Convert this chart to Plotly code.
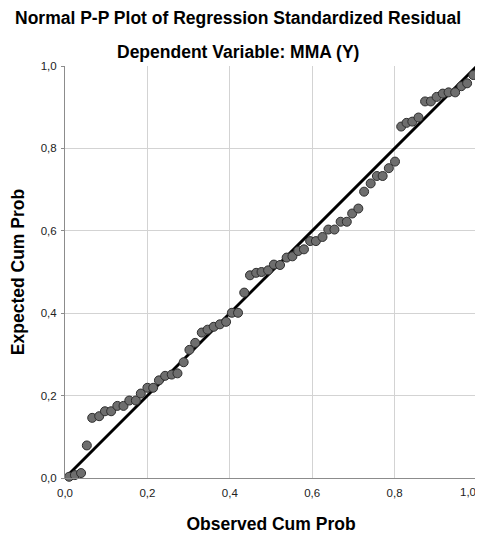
import plotly.graph_objects as go

observed_cum_prob = [
    0.010, 0.024, 0.039, 0.053, 0.066, 0.083, 0.097, 0.112, 0.127, 0.142,
    0.156, 0.172, 0.184, 0.200, 0.214, 0.228, 0.243, 0.259, 0.273, 0.288,
    0.302, 0.316, 0.332, 0.346, 0.361, 0.376, 0.391, 0.405, 0.420, 0.435,
    0.449, 0.464, 0.477, 0.493, 0.507, 0.522, 0.538, 0.552, 0.566, 0.580,
    0.595, 0.609, 0.625, 0.639, 0.654, 0.669, 0.684, 0.697, 0.712, 0.726,
    0.742, 0.757, 0.771, 0.786, 0.801, 0.816, 0.829, 0.843, 0.858, 0.874,
    0.888, 0.902, 0.917, 0.931, 0.947, 0.962, 0.976, 0.991,
]
expected_cum_prob = [
    0.003, 0.007, 0.012, 0.079, 0.146, 0.150, 0.162, 0.162, 0.175, 0.175,
    0.188, 0.188, 0.205, 0.219, 0.219, 0.237, 0.248, 0.251, 0.254, 0.281,
    0.311, 0.328, 0.353, 0.360, 0.367, 0.373, 0.379, 0.401, 0.401, 0.450,
    0.492, 0.498, 0.500, 0.504, 0.518, 0.517, 0.535, 0.538, 0.551, 0.555,
    0.575, 0.575, 0.585, 0.603, 0.603, 0.622, 0.622, 0.642, 0.654, 0.695,
    0.715, 0.733, 0.733, 0.752, 0.768, 0.853, 0.862, 0.865, 0.875, 0.914,
    0.914, 0.925, 0.933, 0.936, 0.936, 0.951, 0.958, 0.978,
]
ref_line = [0.0, 1.0]
tick_vals = [0.0, 0.2, 0.4, 0.6, 0.8, 1.0]
tick_text = ["0,0", "0,2", "0,4", "0,6", "0,8", "1,0"]

FONT = "Liberation Sans, Arial, sans-serif"

fig = go.Figure()
fig.add_trace(go.Scatter(
    x=ref_line, y=ref_line, mode="lines",
    line=dict(color="black", width=3), hoverinfo="skip", showlegend=False,
))
fig.add_trace(go.Scatter(
    x=observed_cum_prob, y=expected_cum_prob, mode="markers",
    marker=dict(size=9, color="#6e6e6e", line=dict(color="#2e2e2e", width=1)),
    showlegend=False, cliponaxis=False,
))

# the last x tick label sits at the page edge: draw it right-anchored so it stays visible
x_tick_text = tick_text[:-1] + [""]

fig.update_layout(
    width=475, height=526,
    margin=dict(l=57, r=6, t=58, b=56, autoexpand=False),
    paper_bgcolor="white", plot_bgcolor="white",
    font=dict(family=FONT, size=11.5, color="#222222"),
    annotations=[
        dict(text="<b>Normal P-P Plot of Regression Standardized Residual</b>",
             xref="paper", yref="paper", x=0.5, y=1, yshift=48, xanchor="center", yanchor="middle",
             showarrow=False, font=dict(family=FONT, size=17.5, color="black"), xshift=-33),
        dict(text="<b>Dependent Variable: MMA (Y)</b>",
             xref="paper", yref="paper", x=0.5, y=1, yshift=14, xanchor="center", yanchor="middle",
             showarrow=False, font=dict(family=FONT, size=17.5, color="black"), xshift=-33),
        dict(text=tick_text[-1], xref="x", yref="paper", x=tick_vals[-1], y=0,
             xanchor="right", yanchor="top", yshift=-6, xshift=1, showarrow=False,
             font=dict(family=FONT, size=11.5, color="#222222")),
    ],
)
fig.update_xaxes(
    range=[0, 1], tickvals=tick_vals, ticktext=x_tick_text,
    showgrid=True, gridcolor="#d3d3d3", gridwidth=1,
    showline=True, linecolor="#8c8c8c", linewidth=1,
    ticks="outside", ticklen=4, tickcolor="rgba(0,0,0,0)", zeroline=False,
    automargin=False,
    title=dict(text="<b>Observed Cum Prob</b>", font=dict(family=FONT, size=17.5, color="black"), standoff=22),
)
fig.update_yaxes(
    range=[0, 1], tickvals=tick_vals, ticktext=tick_text,
    showgrid=True, gridcolor="#d3d3d3", gridwidth=1,
    showline=True, linecolor="#8c8c8c", linewidth=1,
    ticks="outside", ticklen=3, tickcolor="#8c8c8c", zeroline=False,
    ticklabelstandoff=2, automargin=False,
    title=dict(text="<b>Expected Cum Prob</b>", font=dict(family=FONT, size=17.5, color="black"), standoff=12),
)

fig.write_html("out.html")
